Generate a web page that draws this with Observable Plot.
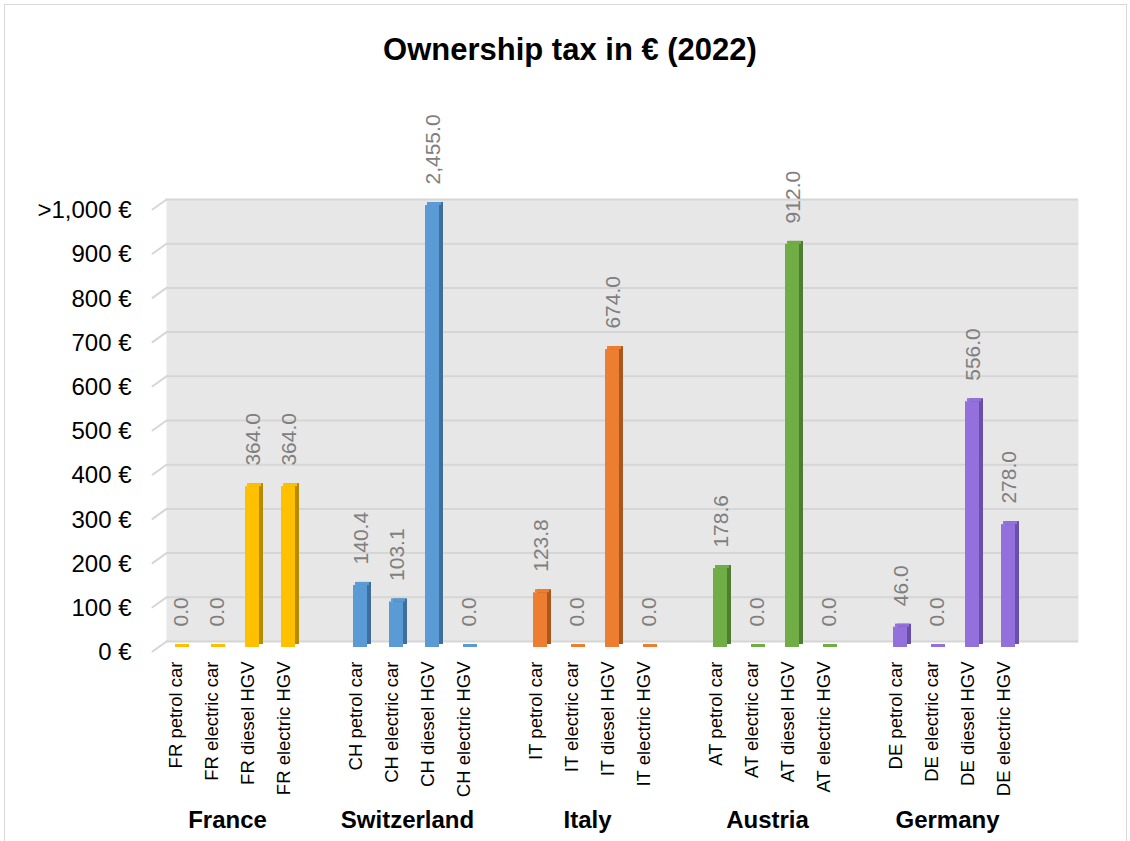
<!DOCTYPE html>
<html><head><meta charset="utf-8">
<script src="https://cdn.jsdelivr.net/npm/d3@7"></script>
<script src="https://cdn.jsdelivr.net/npm/@observablehq/plot@0.6"></script>
<style>
html,body{margin:0;padding:0;background:#fff;}
#wrap{position:relative;width:1130px;height:841px;overflow:hidden;font-family:"Liberation Sans",Arial,sans-serif;}
#border{position:absolute;left:4px;top:4px;width:1123px;height:860px;border:1px solid #d9d9d9;box-sizing:border-box;}
#title{position:absolute;left:0;top:31px;width:1140px;text-align:center;line-height:38px;font-weight:bold;font-size:31px;color:#000;}
#chart{position:absolute;left:0;top:90px;}
</style></head><body>
<div id="wrap"><div id="border"></div><div id="title">Ownership tax in € (2022)</div><div id="chart"></div></div>
<script>
const countries = ["France", "Switzerland", "Italy", "Austria", "Germany"];
const codes = ["FR", "CH", "IT", "AT", "DE"];
const vehicles = ["petrol car", "electric car", "diesel HGV", "electric HGV"];
const taxFR = [0, 0, 364, 364];
const taxCH = [140.4, 103.1, 2455, 0];
const taxIT = [123.8, 0, 674, 0];
const taxAT = [178.6, 0, 912, 0];
const taxDE = [46, 0, 556, 278];
const yTicks = [0, 100, 200, 300, 400, 500, 600, 700, 800, 900, 1000];
const yCap = 1000;

const frontColor = {France: "#FFC000", Switzerland: "#5B9BD5", Italy: "#ED7D31", Austria: "#70AD47", Germany: "#9370DB"};
const sideColor = {France: "#B88A00", Switzerland: "#3E6F9C", Italy: "#A9561F", Austria: "#4E7D31", Germany: "#6A4FA8"};

const taxes = [taxFR, taxCH, taxIT, taxAT, taxDE];
const rows = [];
countries.forEach((c, i) => vehicles.forEach((v, j) =>
  rows.push({country: c, slot: `${codes[i]} ${v}`, value: taxes[i][j]})));
const realSlots = rows.map(d => d.slot);
const slots = codes.flatMap((c, i) => [...vehicles.map(v => `${c} ${v}`), ...(i < codes.length - 1 ? [`gap${i}`] : [])]);
const capped = d => Math.min(d.value, yCap);
const fmtVal = d3.format(",.1f");
const fmtY = v => v >= yCap ? ">1,000 €" : `${d3.format(",")(v)} €`;
const lineShape = {draw(ctx, l) { ctx.moveTo(0, 0); ctx.lineTo(0, -l); }};
const gridColor = "#d6d6d6";

const chart = Plot.plot({
  width: 1130, height: 751,
  marginLeft: 152, marginRight: 66, marginTop: 115, marginBottom: 194,
  style: {fontFamily: '"Liberation Sans", Arial, sans-serif', fontSize: "18px", color: "#000", background: "transparent", overflow: "visible"},
  x: {type: "band", domain: slots, paddingInner: 0.62, paddingOuter: 0.838, align: 0.297},
  y: {domain: [0, yCap]},
  color: {type: "identity"},
  marks: [
    Plot.frame({fill: "#e7e7e7", stroke: "none", dx: 14, dy: -6}),
    Plot.ruleY(yTicks, {stroke: gridColor, strokeWidth: 2, dx: 14, dy: -6}),
    Plot.vector(yTicks, {y: d => d, frameAnchor: "left", length: 17.2, rotate: 54.5, anchor: "start", dy: 4, stroke: gridColor, strokeWidth: 2, shape: lineShape}),
    Plot.barY(rows, {x: "slot", y: capped, fill: d => sideColor[d.country], dx: 4, dy: -3}),
    Plot.barY(rows, {x: "slot", y1: capped, y2: capped, fill: d => frontColor[d.country], dx: 2, insetTop: -3}),
    Plot.barY(rows, {x: "slot", y: capped, fill: d => frontColor[d.country]}),
    Plot.text(rows, {x: "slot", y: capped, text: d => fmtVal(d.value), rotate: -90, textAnchor: "start", dy: -21, dx: 1, fill: "#7f7f7f", fontSize: 21}),
    Plot.axisY(yTicks, {tickSize: 0, tickPadding: 21, tickFormat: fmtY, fontSize: 24, dy: 5, label: null}),
    Plot.axisX(realSlots, {tickSize: 0, tickPadding: 14, tickRotate: -90, fontSize: 18.5, dx: -4, label: null}),
    Plot.text(countries, {x: (c, i) => `${codes[i]} ${vehicles[1]}`, text: d => d, frameAnchor: "bottom", dy: 180, dx: 11, fontWeight: "bold", fontSize: 24})
  ]
});
document.getElementById("chart").appendChild(chart);
</script>
</body></html>
